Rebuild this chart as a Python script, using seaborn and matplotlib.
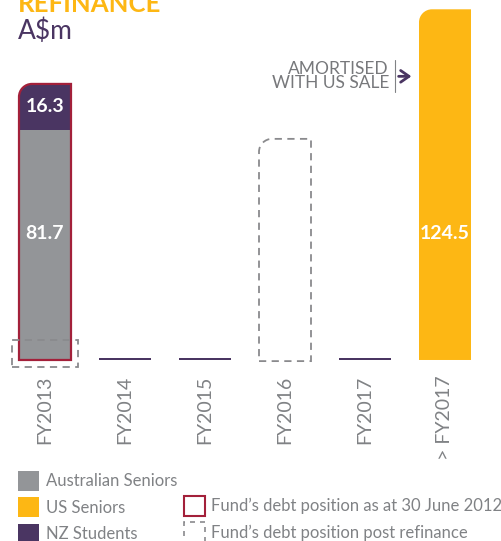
import numpy as np
import pandas as pd
import matplotlib.pyplot as plt
from matplotlib.patches import Patch, PathPatch
from matplotlib.path import Path
import seaborn as sns

# data (A$m)
years = ['FY2013', 'FY2014', 'FY2015', 'FY2016', 'FY2017', '> FY2017']
australian_seniors = [81.7, 0, 0, 0, 0, 0]
nz_students = [16.3, 0.7, 0.7, 0, 0.7, 0]
us_seniors = [0, 0, 0, 0, 0, 124.5]
debt_june_2012 = [98.0, np.nan, np.nan, np.nan, np.nan, np.nan]
debt_post_refinance = [7.0, np.nan, np.nan, 78.5, np.nan, np.nan]

GRAY = '#939598'
YELLOW = '#FDB714'
PURPLE = '#4A3562'
RED = '#A3203A'
DASH = '#8A8A8D'
TEXT = '#808285'


def round_top_left(ax, bar, r_px=13):
    """Swap a bar rectangle for a path with a rounded top-left corner."""
    x, y, w, h = bar.get_x(), bar.get_y(), bar.get_width(), bar.get_height()
    p0 = ax.transData.transform((0, 0))
    p1 = ax.transData.transform((1, 1))
    rx = r_px / (p1[0] - p0[0])
    ry = r_px / (p1[1] - p0[1])
    k = 0.5523
    verts = [(x, y), (x + w, y), (x + w, y + h), (x + rx, y + h),
             (x + rx * (1 - k), y + h), (x, y + h - ry * (1 - k)), (x, y + h - ry),
             (x, y)]
    codes = [Path.MOVETO, Path.LINETO, Path.LINETO, Path.LINETO,
             Path.CURVE4, Path.CURVE4, Path.CURVE4, Path.CLOSEPOLY]
    patch = PathPatch(Path(verts, codes), facecolor=bar.get_facecolor(),
                      edgecolor=bar.get_edgecolor(), linewidth=bar.get_linewidth(),
                      linestyle=bar.get_linestyle(), fill=bar.get_fill(),
                      zorder=bar.get_zorder(), clip_on=False)
    bar.set_visible(False)
    ax.add_patch(patch)


df = pd.DataFrame({
    'year': years,
    'aus': australian_seniors,
    'nz': nz_students,
    'us': us_seniors,
    'debt_2012': debt_june_2012,
})
df['stack'] = df['aus'] + df['nz']

sns.set_theme(style='white')
plt.rcParams['font.family'] = ['Lato', 'DejaVu Sans']

fig = plt.figure(figsize=(5.02, 5.41), dpi=100)
ax = fig.add_axes([0, 0.3346, 1, 0.6654])

bar_kw = dict(x='year', order=years, width=0.65, saturation=1, errorbar=None, ax=ax)

n0 = len(ax.patches)
sns.barplot(data=df, y='stack', color=PURPLE, linewidth=0, zorder=1, **bar_kw)
stack_bars = ax.patches[n0:]
sns.barplot(data=df, y='aus', color=GRAY, linewidth=0, zorder=1.1, **bar_kw)
n0 = len(ax.patches)
sns.barplot(data=df, y='us', color=YELLOW, linewidth=0, zorder=1, **bar_kw)
us_bars = ax.patches[n0:]
n0 = len(ax.patches)
sns.barplot(data=df, y='debt_2012', color=RED, fill=False, linewidth=1.6, zorder=1.2,
            **bar_kw)
outline_bars = ax.patches[n0:]

# dashed "post refinance" boxes
dash_bars = []
for i, v in enumerate(debt_post_refinance):
    if np.isnan(v):
        continue
    wrap = not np.isnan(debt_june_2012[i])  # box wraps an existing bar
    pad = 2.5 if wrap else 0.4
    b = ax.bar(i, v + pad, width=0.82 if wrap else 0.65, bottom=-pad, fill=False,
               edgecolor=DASH, linewidth=1.3, linestyle=(0, (4, 3)), clip_on=False,
               zorder=1.3)
    if not wrap:
        dash_bars.append(b[0])

ax.set_xlim(-0.5625, 5.7125)
ax.set_ylim(0, 127.8)

for b in list(stack_bars) + list(us_bars) + list(outline_bars) + dash_bars:
    if b.get_height() > 20:
        round_top_left(ax, b)

# value labels
label_y = 45
lab_kw = dict(ha='center', va='center', color='white', fontsize=14, fontweight='bold',
              zorder=3)
for i in range(len(years)):
    if nz_students[i] > 5:
        ax.text(i, australian_seniors[i] + nz_students[i] / 2, f'{nz_students[i]:.1f}',
                **lab_kw)
    if australian_seniors[i] > 5:
        ax.text(i, label_y, f'{australian_seniors[i]:.1f}', **lab_kw)
    if us_seniors[i] > 5:
        ax.text(i, label_y, f'{us_seniors[i]:.1f}', **lab_kw)

# annotation
ax.text(4.30, 100.7, 'AMORTISED\nWITH US SALE', ha='right', va='center',
        fontsize=12.5, color='#77787B', linespacing=0.85)
ax.plot([4.375, 4.375], [95.0, 106.4], color=TEXT, lw=0.8)
ax.annotate('', xy=(4.58, 100.7), xytext=(4.42, 100.7),
            arrowprops=dict(arrowstyle='->,head_length=0.5,head_width=0.35',
                            color=PURPLE, lw=2, shrinkA=0, shrinkB=0))

sns.despine(ax=ax, left=True, bottom=True)
ax.set_yticks([])
ax.set_xlabel('')
ax.set_ylabel('')
ax.tick_params(axis='x', length=0, pad=11, labelsize=14, labelcolor=TEXT, labelrotation=90)

# titles
fig.text(18 / 502, 1 - 12 / 541, 'REFINANCE', fontsize=18.5, fontweight='bold',
         color=YELLOW, va='baseline')
fig.text(18 / 502, 1 - 39 / 541, 'A\\$m', fontsize=19, color=PURPLE, va='baseline')

# legends
leg_kw = dict(loc='upper left', frameon=False, fontsize=12, handlelength=1.25,
              handleheight=1.45, handletextpad=0.4, labelspacing=0.4, borderpad=0,
              borderaxespad=0, labelcolor=TEXT)
h1 = [Patch(facecolor=GRAY, linewidth=0), Patch(facecolor=YELLOW, linewidth=0),
      Patch(facecolor=PURPLE, linewidth=0)]
fig.legend(h1, ['Australian Seniors', 'US Seniors', 'NZ Students'],
           bbox_to_anchor=(18 / 502, 1 - 471 / 541), **leg_kw)
h2 = [Patch(facecolor='white', edgecolor=RED, linewidth=1.5),
      Patch(facecolor='none', edgecolor=DASH, linewidth=1.2, linestyle=(0, (3, 3)))]
fig.legend(h2, ['Fund\u2019s debt position as at 30 June 2012',
                'Fund\u2019s debt position post refinance'],
           bbox_to_anchor=(184 / 502, 1 - 496 / 541), **leg_kw)

fig.savefig('out.png', dpi=100)
